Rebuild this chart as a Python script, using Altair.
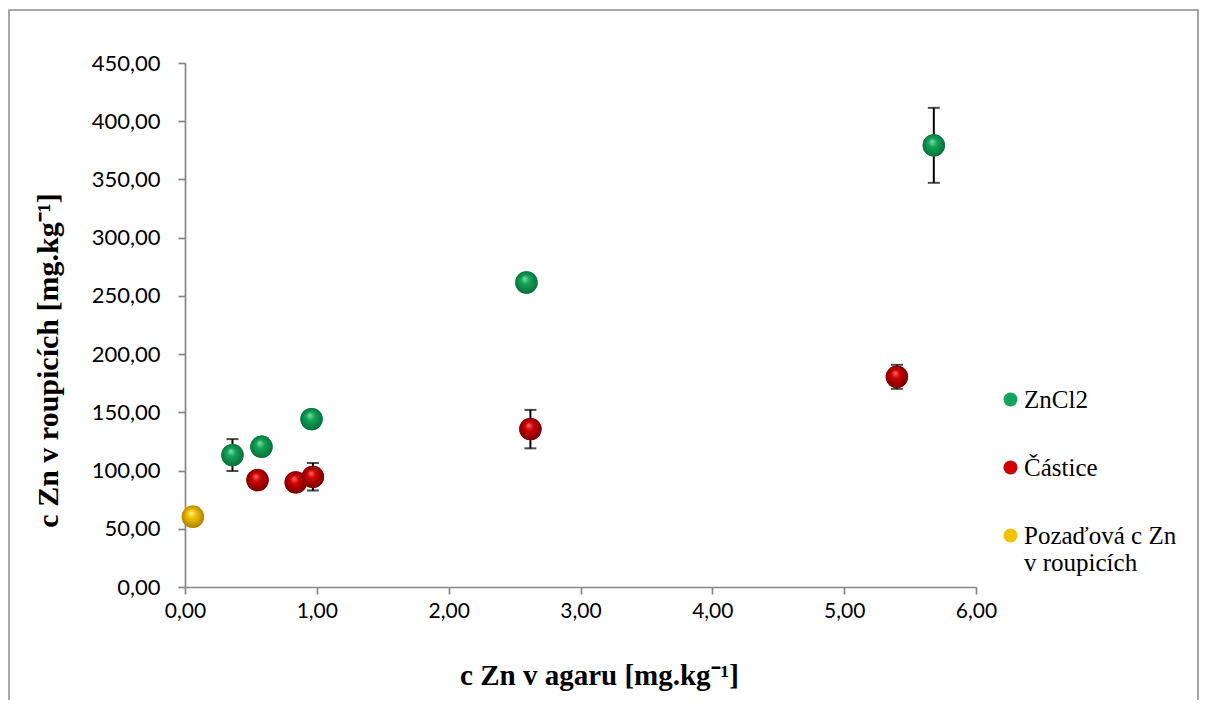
import altair as alt
import pandas as pd

# ---- data ----
series_names = ["ZnCl2", "Částice", "Pozaďová c Zn v roupicích"]

zncl2_x = [0.36, 0.58, 0.96, 2.59, 5.68]
zncl2_y = [113.3, 120.4, 144.2, 261.5, 379.3]
zncl2_err = [13.7, 0.0, 0.0, 0.0, 32.2]

castice_x = [0.55, 0.84, 0.97, 2.62, 5.40]
castice_y = [91.8, 89.8, 94.6, 135.6, 180.5]
castice_err = [0.0, 0.0, 11.8, 16.5, 10.3]

pozadi_x = [0.06]
pozadi_y = [60.3]
pozadi_err = [0.0]

x_ticks = [0, 1, 2, 3, 4, 5, 6]
y_ticks = [0, 50, 100, 150, 200, 250, 300, 350, 400, 450]

base_colors = ["#14a35a", "#cc0000", "#f2c200"]
light_colors = ["#7fe3ac", "#ff6b6b", "#fff0a0"]
dark_colors = ["#066a33", "#6e0000", "#a87800"]

rows = []
for name, xs, ys, es in [
    (series_names[0], zncl2_x, zncl2_y, zncl2_err),
    (series_names[1], castice_x, castice_y, castice_err),
    (series_names[2], pozadi_x, pozadi_y, pozadi_err),
]:
    for xv, yv, ev in zip(xs, ys, es):
        rows.append({"series": name, "x": xv, "y": yv, "err": ev})
df = pd.DataFrame(rows)

X_TITLE = "c Zn v agaru [mg.kg⁻¹]"
Y_TITLE = "c Zn v roupicích [mg.kg⁻¹]"

label_expr = "replace(format(datum.value, '.2f'), '.', ',')"

x_axis = alt.Axis(values=x_ticks, labelExpr=label_expr, title=X_TITLE,
                  labelFont="Lato", labelFontSize=21, labelPadding=6, labelFlush=False,
                  titleFont="Liberation Serif", titleFontWeight="bold", titleFontSize=29,
                  titleX=414, titleY=88, titleBaseline="middle")
y_axis = alt.Axis(values=y_ticks, labelExpr=label_expr, title=Y_TITLE,
                  labelFont="Lato", labelFontSize=22, labelPadding=18, labelFlush=False,
                  titleFont="Liberation Serif", titleFontWeight="bold", titleFontSize=30,
                  titleX=-137, titleY=297, titleBaseline="middle", titleAngle=270)

x_scale = alt.Scale(domain=[0, 6], nice=False, zero=False)
y_scale = alt.Scale(domain=[0, 450], nice=False)

def xenc():
    return alt.X("x:Q", scale=x_scale, axis=x_axis, title=X_TITLE)

def yenc(field="y"):
    return alt.Y(f"{field}:Q", scale=y_scale, axis=y_axis, title=Y_TITLE)

base = alt.Chart(df)

frame = alt.Chart(alt.Data(values=[{"a": 1}])).mark_rect(
    filled=False, stroke="#8a8a8a", strokeWidth=1.5
).encode(
    x=alt.value(-176), x2=alt.value(1013), y=alt.value(-53), y2=alt.value(720)
)

err_base = base.transform_filter("datum.err > 0").transform_calculate(
    lo="datum.y - datum.err", hi="datum.y + datum.err"
)

err_rule = err_base.mark_rule(color="black", strokeWidth=2).encode(
    x=xenc(), y=yenc("lo"), y2="hi:Q"
)
cap_lo = err_base.mark_tick(orient="horizontal", size=12, thickness=2, color="black").encode(
    x=xenc(), y=yenc("lo")
)
cap_hi = err_base.mark_tick(orient="horizontal", size=12, thickness=2, color="black").encode(
    x=xenc(), y=yenc("hi")
)

points = base.mark_circle(size=500, opacity=1).encode(
    x=xenc(), y=yenc(),
    color=alt.Color("series:N",
                    scale=alt.Scale(domain=series_names, range=base_colors),
                    legend=alt.Legend(
                        title=None, orient="none", legendX=813, legendY=324,
                        symbolType="circle", symbolSize=196, symbolStrokeWidth=0,
                        labelFont="Liberation Serif", labelFontSize=25, labelOffset=1,
                        labelLimit=400, rowPadding=42, padding=0,
                        labelColor="black",
                        labelExpr="datum.label == 'Pozaďová c Zn v roupicích' ? ['Pozaďová c Zn', 'v roupicích'] : datum.label",
                    ))
)

shaded = []
for name, lc, bc, dc in zip(series_names, light_colors, base_colors, dark_colors):
    grad = {
        "gradient": "radial",
        "x1": 0.42, "y1": 0.32, "r1": 0.0,
        "x2": 0.5, "y2": 0.5, "r2": 0.55,
        "stops": [
            {"offset": 0.0, "color": lc},
            {"offset": 0.35, "color": bc},
            {"offset": 1.0, "color": dc},
        ],
    }
    shaded.append(
        base.transform_filter(alt.datum.series == name)
        .mark_circle(size=500, opacity=1, fill=grad)
        .encode(x=xenc(), y=yenc())
    )

chart = alt.layer(frame, err_rule, cap_lo, cap_hi, points, *shaded).properties(
    width=791, height=524,
    autosize=alt.AutoSizeParams(type="none"),
    padding={"left": 177, "top": 55, "right": 223, "bottom": 113},
    background="white",
).configure_view(stroke=None).configure_axis(
    grid=False, domainColor="#868686", domainWidth=1.7, tickColor="#868686",
    tickWidth=1.7, tickSize=7, labelColor="black", titleColor="black",
)

chart.save("out.html", embed_options={"renderer": "svg", "actions": False})
